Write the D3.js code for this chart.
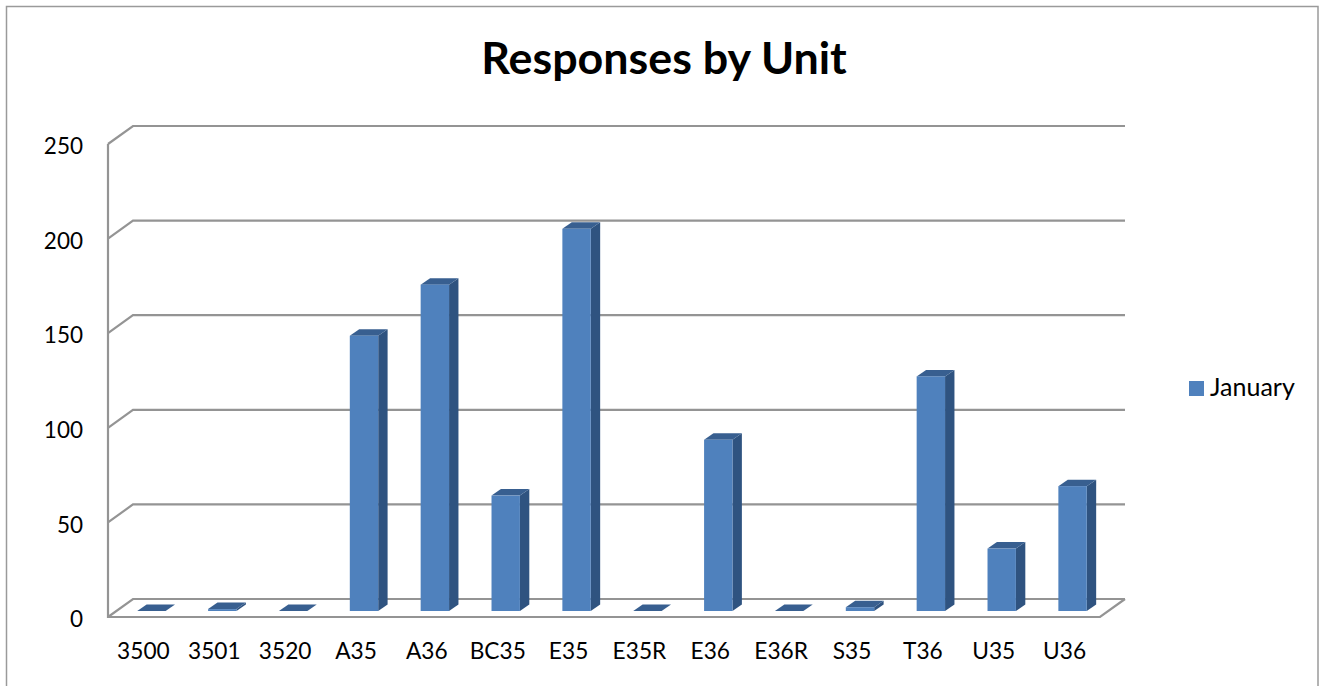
<!DOCTYPE html>
<html><head><meta charset="utf-8">
<script src="https://cdn.jsdelivr.net/npm/d3@7"></script>
<style>html,body{margin:0;padding:0;background:#fff;overflow:hidden}svg{display:block}text{font-family:Lato,"Open Sans",sans-serif;fill:#000}</style>
</head><body><svg id="c" width="1321" height="686"></svg>
<script>
const categories=["3500","3501","3520","A35","A36","BC35","E35","E35R","E36","E36R","S35","T36","U35","U36"];
const january=[0,1,0,145.5,172.5,61,202,0,90.5,0,2,124,33,66];
const yTicks=[0,50,100,150,200,250];
const seriesName="January";
const chartTitle="Responses by Unit";

const svg=d3.select("#c");
const x=d3.scaleBand().domain(categories).range([108,1100]);
const y=d3.scaleLinear().domain([0,250]).range([617,144]);
const depthX=25,depthY=-18,gridC="#949494";
const barW=28.4,barShift=8,barRaise=6,sideX=9.4,sideY=-6.5;

svg.append("path").attr("d","M6.5,686V6.5H1318V686").attr("fill","none").attr("stroke","#9a9a9a").attr("stroke-width",1.5);
svg.append("text").attr("x",664).attr("y",74).attr("text-anchor","middle").attr("font-size",44.8).attr("font-weight",700).text(chartTitle);

// walls and floor
const grid=svg.append("g").attr("fill","none").attr("stroke",gridC).attr("stroke-width",2.2);
yTicks.forEach(t=>{
  grid.append("path").attr("d",d3.line()([[x.range()[0],y(t)],[x.range()[0]+depthX,y(t)+depthY],[x.range()[1]+depthX,y(t)+depthY]]));
});
grid.append("path").attr("d",d3.line()([[x.range()[0],y(250)],[x.range()[0],y(0)],[x.range()[1],y(0)],[x.range()[1]+depthX,y(0)+depthY]]));

// bars
const bars=svg.append("g").selectAll("g").data(categories).join("g");
const fx=c=>x(c)+x.bandwidth()/2+barShift-barW/2;
const barTop=i=>y(january[i])-barRaise;
const base=y(0)-barRaise;
bars.append("path").attr("fill","#2f5380").attr("d",(c,i)=>d3.line()([[fx(c)+barW,barTop(i)],[fx(c)+barW+sideX,barTop(i)+sideY],[fx(c)+barW+sideX,base+sideY],[fx(c)+barW,base]])+"Z");
bars.append("path").attr("fill","#385f90").attr("d",(c,i)=>d3.line()([[fx(c),barTop(i)],[fx(c)+sideX,barTop(i)+sideY],[fx(c)+barW+sideX,barTop(i)+sideY],[fx(c)+barW,barTop(i)]])+"Z");
bars.append("rect").attr("fill","#4f81bd").attr("x",c=>fx(c)).attr("width",barW).attr("y",(c,i)=>barTop(i)).attr("height",(c,i)=>base-barTop(i));

// axes
const ay=svg.append("g").attr("transform","translate(83,1.5)").call(d3.axisLeft(y).tickValues(yTicks).tickSize(0).tickPadding(0));
ay.select(".domain").remove();
ay.selectAll("text").attr("font-size",22.5).attr("dy","0.36em").style("font-family","Lato").style("fill","#000");
const ax=svg.append("g").attr("transform","translate(0,651)").call(d3.axisBottom(x).tickSize(0).tickPadding(0));
ax.select(".domain").remove();
ax.selectAll("text").attr("font-size",22.7).attr("dy","0.36em").style("font-family","Lato").style("fill","#000");

// legend
svg.append("rect").attr("x",1189).attr("y",381).attr("width",15).attr("height",15).attr("fill","#4f81bd");
svg.append("text").attr("x",1210).attr("y",396).attr("font-size",25).text(seriesName);
</script></body></html>
